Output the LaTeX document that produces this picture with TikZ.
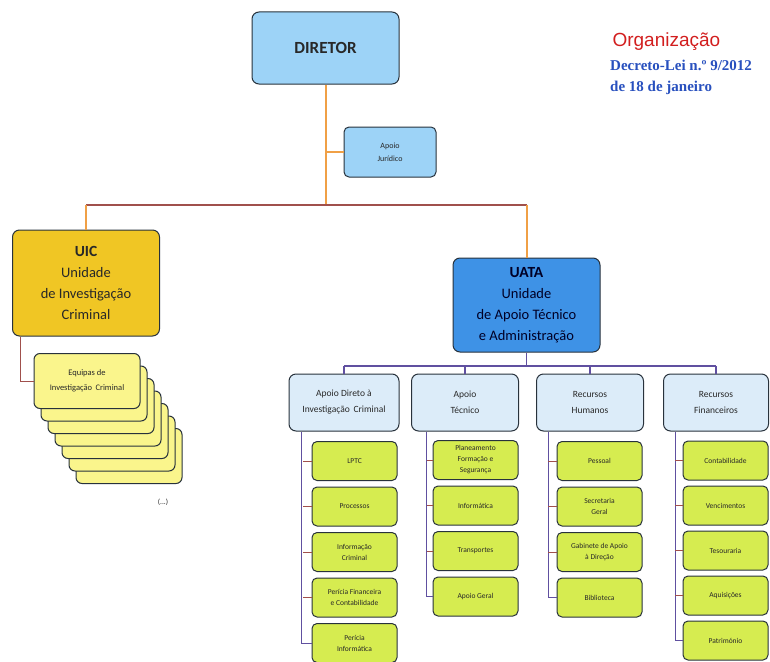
\documentclass[tikz,border=0pt]{standalone}
\usepackage{fontspec}
\setmainfont{Carlito}
\newfontfamily\titlefont{Liberation Sans}
\newfontfamily\decfont{Liberation Serif}
\usetikzlibrary{positioning, calc}
\definecolor{dirblue}{RGB}{157,211,247}
\definecolor{uicgold}{RGB}{240,198,36}
\definecolor{uatablue}{RGB}{62,146,230}
\definecolor{secblue}{RGB}{220,236,249}
\definecolor{leafgreen}{RGB}{214,236,80}
\definecolor{teamyellow}{RGB}{250,245,140}
\definecolor{lineorange}{RGB}{240,160,70}
\definecolor{linebrown}{RGB}{160,80,76}
\definecolor{linepurple}{RGB}{96,80,160}
\definecolor{boxedge}{RGB}{40,50,60}
\definecolor{txtdark}{RGB}{40,40,40}
\definecolor{orgred}{RGB}{210,30,30}
\definecolor{decblue}{RGB}{40,80,190}

\tikzset{
  box/.style={draw=boxedge, line width=1pt, rounded corners=7pt, align=center,
    inner sep=2pt, text=txtdark},
  mainbox/.style={box, minimum width=147pt, font=\fontsize{14.5}{21}\selectfont},
  secbox/.style={box, fill=secblue, minimum width=107pt, minimum height=57pt,
    font=\fontsize{9.5}{16}\selectfont},
  leafbox/.style={box, fill=leafgreen, minimum width=85pt, minimum height=39pt,
    rounded corners=5pt, font=\fontsize{7.5}{11}\selectfont},
  teambox/.style={box, fill=teamyellow, minimum width=106pt, minimum height=55pt,
    rounded corners=6pt, font=\fontsize{8.5}{15}\selectfont},
  orangeline/.style={lineorange, line width=2pt},
  brownline/.style={linebrown, line width=1.5pt},
  busline/.style={linepurple, line width=1.2pt},
  subline/.style={linepurple, line width=1pt},
}

\begin{document}
\begin{tikzpicture}[x=1pt, y=-1pt]
  \useasboundingbox (0,0) rectangle (770,661);

  % title
  \node[anchor=west, font=\titlefont\fontsize{19}{20}\selectfont, orgred] (org) at (609,42) {Organização};
  \node[anchor=north west, align=left, inner sep=0pt, font=\decfont\bfseries\fontsize{15}{21}\selectfont, decblue] (dec) at (610,60)
    {Decreto-Lei n.º 9/2012\\de 18 de janeiro};

  % top
  \node[box, fill=dirblue, minimum width=147pt, minimum height=72pt,
        font=\bfseries\fontsize{17}{19}\selectfont] (dir) at (325.5,48) {DIRETOR};
  \node[box, fill=dirblue, minimum width=92pt, minimum height=50pt, rounded corners=5pt,
        font=\fontsize{8}{13}\selectfont] (jur) at (390,152) {Apoio\\Jurídico};

  \node[mainbox, fill=uicgold, minimum height=106pt] (uic) at (86,283)
    {{\bfseries\fontsize{15.5}{17}\selectfont UIC}\\Unidade\\de Investigação\\Criminal};
  \node[mainbox, fill=uatablue, minimum height=94pt, text=black!85!blue] (uata) at (526.5,305)
    {{\bfseries\fontsize{15.5}{17}\selectfont UATA}\\Unidade\\de Apoio Técnico\\e Administração};

  \coordinate (split) at (325.5,205);
  \draw[orangeline] (dir.south) -- (split);
  \draw[orangeline] (jur.west) -- (jur.west -| dir.south);
  \draw[brownline] (uic.north |- split) -- (uata.north |- split);
  \draw[orangeline] (uic.north |- split) -- (uic.north);
  \draw[orangeline] (uata.north |- split) -- (uata.north);

  % equipas stack
  \foreach \i in {6,5,...,1}
    \node[teambox] (eq\i) at ({87+7*\i},{381+12.5*\i}) {};
  \node[teambox] (eq0) at (87,381) {Equipas de\\Investigação\, Criminal};
  \node[font=\fontsize{7.5}{8}\selectfont, text=txtdark] (etc) at (163,502) {(...)};
  \draw[brownline, line width=1pt] ([xshift=8pt]uic.south west) |- (eq0.west);

  % second level
  \node[secbox, minimum width=110pt] (adi) at (344,402.5) {Apoio Direto à\\Investigação\, Criminal};
  \node[secbox] (apt) at (465,402.5) {Apoio\\Técnico};
  \node[secbox] (rhu) at (590,402.5) {Recursos\\Humanos};
  \node[secbox, minimum width=105pt] (rfi) at (716,402.5) {Recursos\\Financeiros};

  \coordinate (bus) at (526.5,366);
  \draw[busline] (uata.south) -- (bus);
  \draw[busline] (adi.north |- bus) -- (rfi.north |- bus);
  \foreach \n in {adi,apt,rhu,rfi}
    \draw[busline] (\n.north |- bus) -- (\n.north);

  % third level
  \foreach \t [count=\i] in {LPTC,Processos,Informação\\Criminal,Perícia Financeira\\e Contabilidade,Perícia\\Informática}
    \node[leafbox] (ad\i) at (354.5,{415.5+45.5*\i}) {\t};
  \foreach \t [count=\i] in {Planeamento\\Formação e\\Segurança,Informática,Transportes,Apoio Geral}
    \node[leafbox] (at\i) at (475.5,{414.5+45.5*\i}) {\t};
  \foreach \t [count=\i] in {Pessoal,Secretaria\\Geral,Gabinete de Apoio\\à Direção,Biblioteca}
    \node[leafbox] (rh\i) at (599.5,{415.5+45.5*\i}) {\t};
  \foreach \t [count=\i] in {Contabilidade,Vencimentos,Tesouraria,Aquisições,Património}
    \node[leafbox] (rf\i) at (725.5,{415.5+45*\i}) {\t};

  \draw[subline] ([xshift=13pt]adi.south west) |- (ad5.west);
  \draw[subline] ([xshift=15pt]apt.south west) |- (at4.west);
  \draw[subline] ([xshift=12pt]rhu.south west) |- (rh4.west);
  \draw[subline] ([xshift=12pt]rfi.south west) |- (rf5.west);
  \foreach \i in {1,...,4} {
    \draw[brownline, line width=0.9pt] (ad\i.west) -- ++(-9,0);
    \draw[brownline, line width=0.9pt] (rf\i.west) -- ++(-8,0);
  }
  \foreach \i in {1,...,3} {
    \draw[brownline, line width=0.9pt] (at\i.west) -- ++(-6,0);
    \draw[brownline, line width=0.9pt] (rh\i.west) -- ++(-9,0);
  }
\end{tikzpicture}
\end{document}
